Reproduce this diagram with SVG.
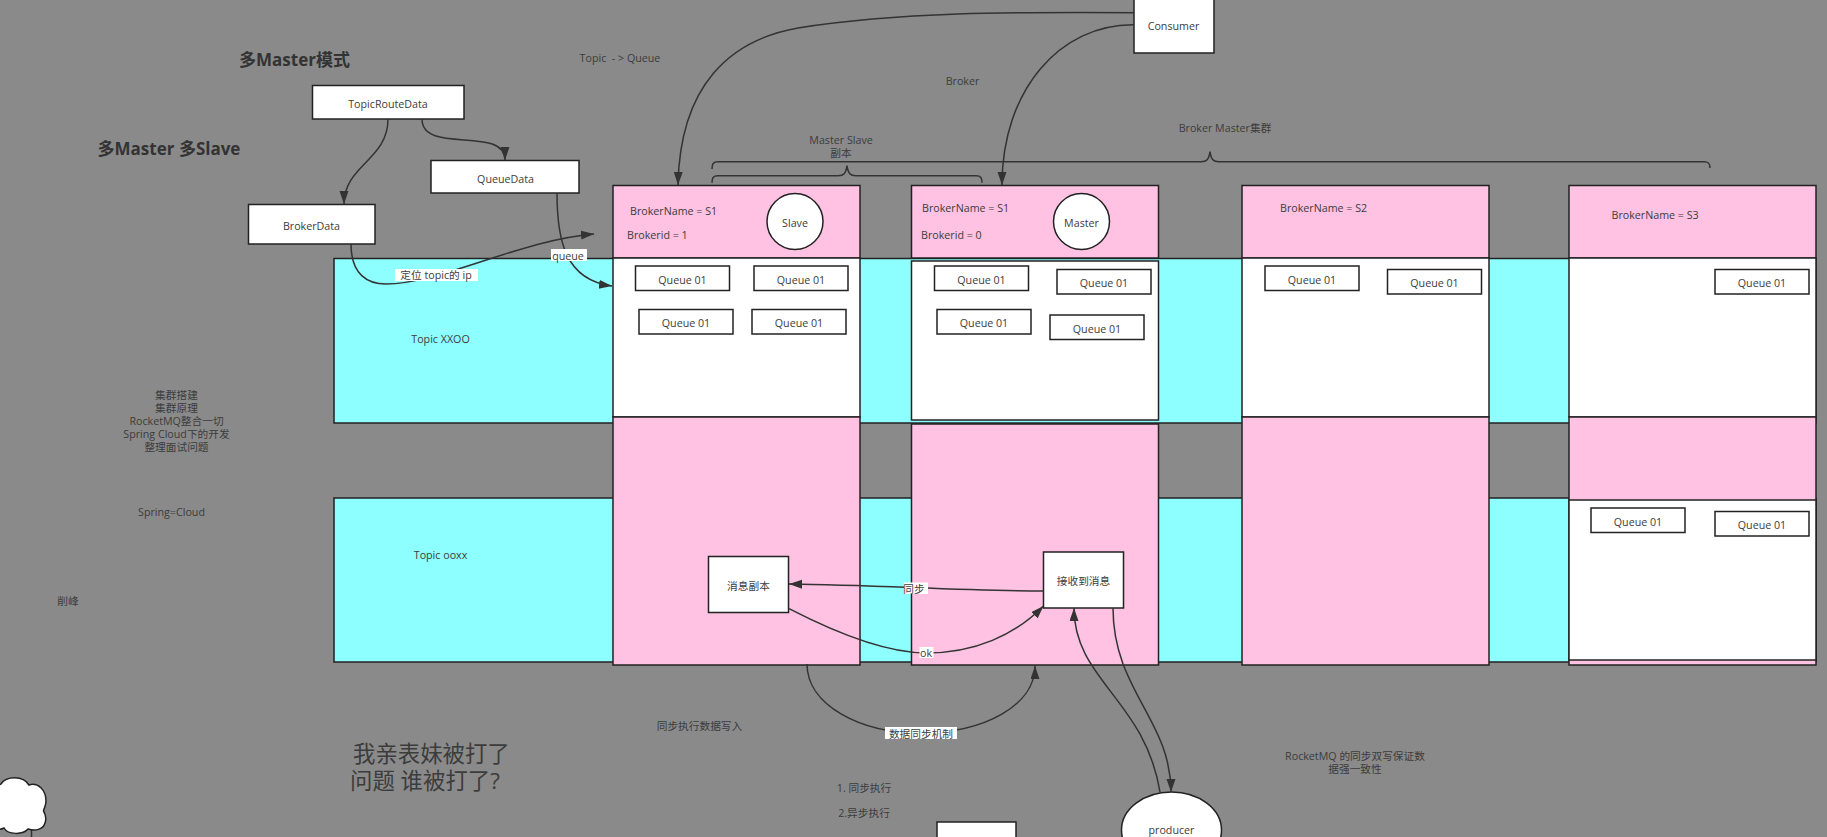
<svg xmlns="http://www.w3.org/2000/svg" width="1827" height="837" viewBox="0 0 1827 837">
<style>
text{font-family:"Open Sans","Noto Sans CJK SC",sans-serif;font-size:10.7px;fill:#3c3c3c;text-anchor:middle;dominant-baseline:central}
.s{text-anchor:start}
.b{font-weight:700;font-size:17px;fill:#333}
.l{font-size:22.4px;text-anchor:start}
.box{fill:#fff;stroke:#222;stroke-width:1.5}
.pink{fill:#ffc2e2;stroke:#222;stroke-width:1.5}
.cy{fill:#8effff;stroke:#222;stroke-width:1.5}
.c{fill:none;stroke:#333;stroke-width:1.5}
.a{marker-end:url(#ah)}
.lb{fill:#fff;stroke:none}
</style>
<defs><marker id="ah" markerUnits="userSpaceOnUse" markerWidth="14" markerHeight="10" refX="13" refY="4.5" orient="auto"><path d="M0 0L13 4.500L0 9Z" fill="#333"/></marker></defs>
<rect width="1827" height="837" fill="#8a8a8a"/>
<g id="topic-xxoo"><rect class="cy" x="334" y="258.5" width="1482" height="164.5"/><text x="440.5" y="338.500">Topic XXOO</text></g>
<g id="topic-ooxx"><rect class="cy" x="334" y="498" width="1482" height="164"/><text x="440.5" y="554.500">Topic ooxx</text></g>
<g id="broker-slave">
<rect class="pink" x="613" y="185.500" width="247" height="72.500"/><rect class="box" x="613" y="258" width="247" height="159"/><rect class="pink" x="613" y="417" width="247" height="248"/>
<text class="s" x="630" y="210.500">BrokerName = S1</text><text class="s" x="627" y="234.500">Brokerid = 1</text>
</g>
<g id="slave"><circle class="box" cx="795" cy="221.500" r="28"/><text x="795" y="222.500">Slave</text></g>
<g id="broker-master">
<rect class="pink" x="911.500" y="185.500" width="247" height="72.500"/><rect class="box" x="911.500" y="261" width="247" height="159"/><rect class="pink" x="911.500" y="424" width="247" height="241"/>
<text class="s" x="922" y="207.500">BrokerName = S1</text><text class="s" x="921" y="234.500">Brokerid = 0</text>
</g>
<g id="master"><circle class="box" cx="1081.500" cy="221.500" r="28"/><text x="1081.500" y="222.500">Master</text></g>
<g id="broker-s2">
<rect class="pink" x="1242" y="185.500" width="247" height="72.500"/><rect class="box" x="1242" y="258" width="247" height="159"/><rect class="pink" x="1242" y="417" width="247" height="248"/>
<text class="s" x="1280" y="207.500">BrokerName = S2</text>
</g>
<g id="broker-s3">
<rect class="pink" x="1569" y="185.500" width="247" height="72.500"/><rect class="box" x="1569" y="258" width="247" height="159"/><rect class="pink" x="1569" y="417" width="247" height="248"/><rect class="box" x="1569" y="500" width="247" height="160"/>
<text class="s" x="1611.500" y="214.500">BrokerName = S3</text>
</g>
<g id="queues">
<g id="q1"><rect class="box" x="635.500" y="266" width="94" height="24.500"/><text x="682.500" y="279.500">Queue 01</text></g>
<g id="q2"><rect class="box" x="754" y="266" width="94" height="24.500"/><text x="801" y="279.500">Queue 01</text></g>
<g id="q3"><rect class="box" x="639" y="309.500" width="94" height="24.500"/><text x="686" y="322.500">Queue 01</text></g>
<g id="q4"><rect class="box" x="752" y="309.500" width="94" height="24.500"/><text x="799" y="322.500">Queue 01</text></g>
<g id="q5"><rect class="box" x="934.500" y="266" width="94" height="24.500"/><text x="981.500" y="279.500">Queue 01</text></g>
<g id="q6"><rect class="box" x="1057" y="269.500" width="94" height="24.500"/><text x="1104" y="282.500">Queue 01</text></g>
<g id="q7"><rect class="box" x="937" y="309.500" width="94" height="24.500"/><text x="984" y="322.500">Queue 01</text></g>
<g id="q8"><rect class="box" x="1050" y="315" width="94" height="24.500"/><text x="1097" y="328.500">Queue 01</text></g>
<g id="q9"><rect class="box" x="1265" y="266" width="94" height="24.500"/><text x="1312" y="279.500">Queue 01</text></g>
<g id="q10"><rect class="box" x="1387.500" y="269.500" width="94" height="24.500"/><text x="1434.500" y="282.500">Queue 01</text></g>
<g id="q11"><rect class="box" x="1715" y="269.500" width="94" height="24.500"/><text x="1762" y="282.500">Queue 01</text></g>
<g id="q12"><rect class="box" x="1591" y="508" width="94" height="24.500"/><text x="1638" y="521.500">Queue 01</text></g>
<g id="q13"><rect class="box" x="1715" y="511.500" width="94" height="24.500"/><text x="1762" y="524.500">Queue 01</text></g>
</g>
<g id="msg-copy"><rect class="box" x="708.500" y="556.500" width="80" height="56"/><text x="748.500" y="585.500">消息副本</text></g>
<g id="msg-recv"><rect class="box" x="1043.500" y="552" width="80" height="56"/><text x="1083.500" y="581">接收到消息</text></g>
<g id="topicroutedata"><rect class="box" x="312.500" y="85.500" width="151.500" height="33.500"/><text x="388" y="103.500">TopicRouteData</text></g>
<g id="queuedata"><rect class="box" x="431" y="160.500" width="148" height="32.500"/><text x="505.500" y="178.500">QueueData</text></g>
<g id="brokerdata"><rect class="box" x="248.500" y="204.500" width="126.500" height="39.500"/><text x="311.500" y="225.500">BrokerData</text></g>
<g id="consumer"><rect class="box" x="1134" y="-5" width="80" height="58"/><text x="1173.500" y="25.500">Consumer</text></g>
<g id="producer"><ellipse class="box" cx="1171.500" cy="830" rx="50" ry="38"/><text x="1171.500" y="829.500">producer</text></g>
<g id="bottom-box"><rect class="box" x="937" y="822" width="79" height="40"/></g>
<g id="cloud"><path class="c" d="M31.500 829V840"/><path class="box" d="M-10 786C-5 785 -2 786 1 784C6 776 23 775 29 785C38 782 46 790 46 801C46 806 44 808 43.500 811C46 815 46 820 45 823C43 830 35 831 28 829C23 835 8 835 4 828C0 830 -5 830 -10 828Z"/></g>
<g id="connectors">
<path class="c a" d="M388 119C388 160 344 165 344 204"/>
<path class="c a" d="M422 119C422 155 505 125 505 160"/>
<path class="c a" d="M351 244C351 275 368 284 386 284C440 284 520 240 594 234"/>
<path class="c a" d="M557 193C557 240 565 280 612 286"/>
<path class="c a" d="M1134 12.700C1010 12 900 12 798 28C730 40 680 85 678 185"/>
<path class="c a" d="M1134 24.700C1060 24 1002 90 1002 185"/>
<path class="c" d="M712 182.700C712 178 713 175.700 718 175.700H838C844 175.700 846 173 847 165.700C848 173 850 175.700 856 175.700H976C981 175.700 982 178 982 182.700"/>
<path class="c" d="M712 169C712 164 713 161.700 718 161.700H1201C1207 161.700 1209 159 1210 151.700C1211 159 1213 161.700 1219 161.700H1704C1709 161.700 1710 164 1710 168"/>
<path class="c a" d="M1043.500 591C960 591 880 585 789 584"/>
<path class="c a" d="M789 608.700C840 635 890 653 926 653C975 653 1015 635 1043.500 606"/>
<path class="c a" d="M807 664C807 705 860 733 920 733C985 733 1035 705 1035 666"/>
<path class="c a" d="M1160 792C1145 700 1074 680 1074 608"/>
<path class="c a" d="M1113 608C1113 690 1171 720 1171 792"/>
</g>
<g id="labels">
<rect class="lb" x="395" y="269" width="83" height="12"/><text x="436" y="275">定位 topic的 ip</text>
<rect class="lb" x="551" y="249" width="36" height="12"/><text x="568" y="255.500">queue</text>
<rect class="lb" x="904" y="582.500" width="24" height="11.500"/><text x="914" y="588.500">同步</text>
<rect class="lb" x="919.500" y="647" width="14" height="11"/><text x="926" y="652.500">ok</text>
<rect class="lb" x="885" y="727" width="72" height="12"/><text x="921" y="733.500">数据同步机制</text>
</g>
<g id="texts">
<text class="b" x="294.500" y="59">多Master模式</text>
<text class="b" x="169" y="148.500">多Master 多Slave</text>
<text x="620" y="57.500" xml:space="preserve">Topic  - &gt; Queue</text>
<text x="962.500" y="80.500">Broker</text>
<text x="841" y="139.500">Master Slave</text><text x="841" y="152.500">副本</text>
<text x="1225" y="127.500">Broker Master集群</text>
<text x="176.500" y="395">集群搭建</text><text x="176.500" y="408">集群原理</text><text x="176.500" y="421">RocketMQ整合一切</text><text x="176.500" y="434">Spring Cloud下的开发</text><text x="176.500" y="447">整理面试问题</text>
<text x="171.500" y="511.500">Spring=Cloud</text>
<text x="68" y="600.500">削峰</text>
<text class="l" x="353" y="753">我亲表妹被打了</text><text class="l" x="350" y="780.500">问题 谁被打了?</text>
<text x="699.500" y="726">同步执行数据写入</text>
<text x="864" y="787.500">1. 同步执行</text><text x="864" y="813">2.异步执行</text>
<text x="1355" y="756">RocketMQ 的同步双写保证数</text><text x="1355" y="769">据强一致性</text>
</g>
</svg>
